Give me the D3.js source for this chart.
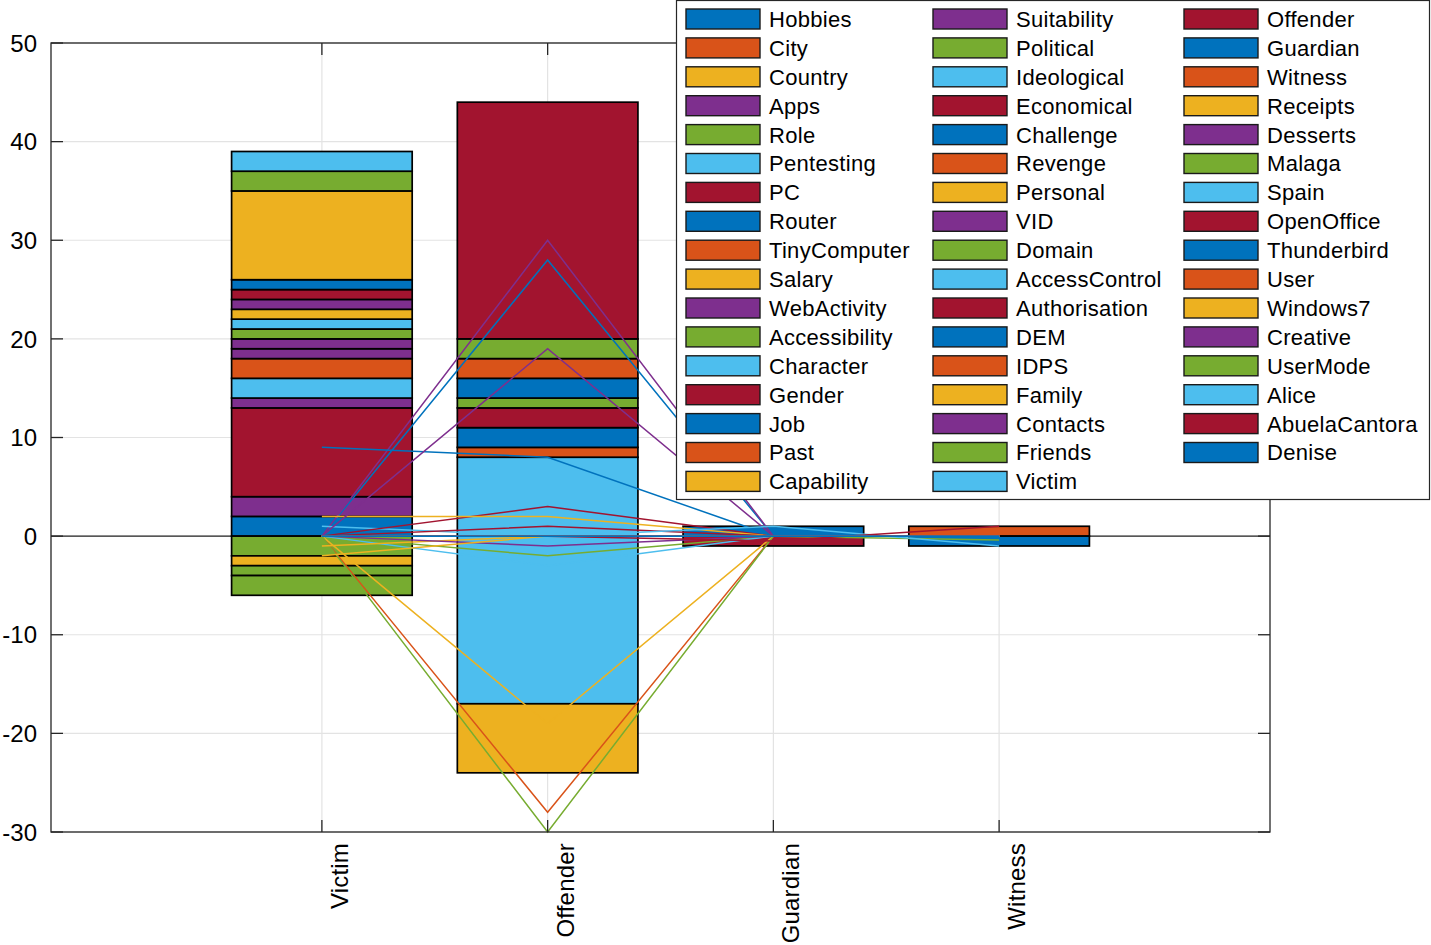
<!DOCTYPE html>
<html><head><meta charset="utf-8">
<script src="https://cdn.jsdelivr.net/npm/d3@7"></script>
<style>
body{margin:0;background:#fff}
svg{display:block}
text{font-family:"Liberation Sans",Arial,Helvetica,sans-serif;fill:#000}
</style>
</head><body><svg id="chart" width="1431" height="945"></svg>
<script>
const categories = ["Victim","Offender","Guardian","Witness"];
const seriesNames = ["Hobbies","City","Country","Apps","Role","Pentesting","PC","Router","TinyComputer","Salary",
  "WebActivity","Accessibility","Character","Gender","Job","Past","Capability","Suitability","Political","Ideological",
  "Economical","Challenge","Revenge","Personal","VID","Domain","AccessControl","Authorisation","DEM","IDPS",
  "Family","Contacts","Friends","Victim","Offender","Guardian","Witness","Receipts","Desserts","Malaga",
  "Spain","OpenOffice","Thunderbird","User","Windows7","Creative","UserMode","Alice","AbuelaCantora","Denise"];
const palette = ["#0072BD","#D95319","#EDB120","#7E2F8E","#77AC30","#4DBEEE","#A2142F"];

// stacked bar values, one entry per series
const barVictim   = [2,0,0,2,-2,0,9,0,0,-1, 1,-1,2,0,0,2,0,1,-2,0, 0,0,0,0,1,1,1,0,0,0, 1,1,0,0,1,1,0,9,0,2, 2,0,0,0,0,0,0,0,0,0];
const barOffender = [0,0,0,0,0,8,0,0,1,0, 0,0,-17,0,2,0,-7,0,0,0, 2,0,0,0,0,1,0,0,2,2, 0,0,2,0,24,0,0,0,0,0, 0,0,0,0,0,0,0,0,0,0];
const barGuardian = [0,0,0,0,0,0,0,0,0,0, 0,0,0,0,0,0,0,0,0,0, 0,0,0,0,0,0,0,0,0,0, 0,0,0,0,0,1,0,0,0,0, 0,-1,0,0,0,0,0,0,0,0];
const barWitness  = [0,0,0,0,0,0,0,0,0,0, 0,0,0,0,0,0,0,0,0,0, 0,0,0,0,0,0,0,0,0,0, 0,0,0,0,0,0,1,0,0,0, 0,0,-1,0,0,0,0,0,0,0];

// line values, one entry per series, at each category
const lineVictim   = [0,0,0,0,0,1,0,9,0,2, 0,0,0,0,0,0,-1,0,0,0, 0,0,0,-2,0,0,0,0,0,0, 0,0,0,0,0,0,0,0,0,0, 0,0,0,0,0,0,0,0,0,0];
const lineOffender = [28,-28,-19,30,-30,0,3,8,0,2, 19,-2,-3,1,0,0,0,-1,0,0, 0,0,0,0,0,0,0,0,0,0, 0,0,0,0,0,0,0,0,0,0, 0,0,0,0,0,0,0,0,0,0];
const lineGuardian = [0,0,0,0,0,0,0,0,0,0, 0,0,0,0,0,0,0,0,0,1, -0.5,0,0,0,0,0,0,0,0,0, 0,0,0,0,0,0,0,0,0,0, 0,0,0,0,0,0,0,0,0,0];
const lineWitness  = [0,0,0,0,0,0,0,0,0,0, 0,0,0,0,0,0,0,0,-0.4,-1, 1,0,0,0,0,0,0,0,0,0, 0,0,0,0,0,0,0,0,0,0, 0,0,0,0,0,0,0,0,0,0];

const yTicks = [-30,-20,-10,0,10,20,30,40,50];

const svg = d3.select("#chart");
const x = d3.scaleLinear().domain([-0.2, 5.2]).range([51, 1270]);
const y = d3.scaleLinear().domain([-30, 50]).range([832, 43]);
const color = i => palette[i % palette.length];
const barW = x(0.8) - x(0);

// grid
const grid = svg.append("g");
grid.selectAll("line.gy").data(yTicks).join("line")
  .attr("x1", x(-0.2)).attr("x2", x(5.2))
  .attr("y1", d => y(d)).attr("y2", d => y(d))
  .attr("stroke", "#e3e3e3").attr("stroke-width", 1.2);
grid.selectAll("line.gx").data(categories).join("line")
  .attr("x1", (d, i) => x(i + 1)).attr("x2", (d, i) => x(i + 1))
  .attr("y1", y(-30)).attr("y2", y(50))
  .attr("stroke", "#e3e3e3").attr("stroke-width", 1.2);

// baseline
svg.append("line").attr("x1", x(-0.2)).attr("x2", x(5.2)).attr("y1", y(0)).attr("y2", y(0))
  .attr("stroke", "#262626").attr("stroke-width", 1.3);

// stacked bars
const barCols = [barVictim, barOffender, barGuardian, barWitness];
const rows = categories.map((c, ci) => {
  const r = {cat: c, idx: ci};
  seriesNames.forEach((s, si) => r[s] = barCols[ci][si]);
  return r;
});
const stack = d3.stack().keys(seriesNames).offset(d3.stackOffsetDiverging);
const layers = stack(rows);
const gb = svg.append("g");
layers.forEach((layer, si) => {
  gb.selectAll(null).data(layer.filter(d => d[1] !== d[0])).join("rect")
    .attr("x", d => x(d.data.idx + 1) - barW / 2)
    .attr("width", barW)
    .attr("y", d => y(Math.max(d[0], d[1])))
    .attr("height", d => Math.abs(y(d[0]) - y(d[1])))
    .attr("fill", color(si))
    .attr("stroke", "#000").attr("stroke-width", 1.7);
});

// lines
const lineCols = [lineVictim, lineOffender, lineGuardian, lineWitness];
const lineGen = d3.line().x(d => x(d.i + 1)).y(d => y(d.v));
const gl = svg.append("g");
seriesNames.forEach((s, si) => {
  const pts = lineCols.map((col, ci) => ({i: ci, v: col[si]}));
  gl.append("path").attr("d", lineGen(pts)).attr("fill", "none")
    .attr("stroke", color(si)).attr("stroke-width", 1.5);
});

// axes box
svg.append("rect").attr("x", x(-0.2)).attr("y", y(50)).attr("width", x(5.2) - x(-0.2)).attr("height", y(-30) - y(50))
  .attr("fill", "none").attr("stroke", "#262626").attr("stroke-width", 1.3);
const tl = 12;
yTicks.forEach(t => {
  svg.append("line").attr("x1", x(-0.2)).attr("x2", x(-0.2) + tl).attr("y1", y(t)).attr("y2", y(t)).attr("stroke", "#262626").attr("stroke-width", 1.3);
  svg.append("line").attr("x1", x(5.2)).attr("x2", x(5.2) - tl).attr("y1", y(t)).attr("y2", y(t)).attr("stroke", "#262626").attr("stroke-width", 1.3);
});
categories.forEach((c, i) => {
  svg.append("line").attr("x1", x(i + 1)).attr("x2", x(i + 1)).attr("y1", y(-30)).attr("y2", y(-30) - tl).attr("stroke", "#262626").attr("stroke-width", 1.3);
  svg.append("line").attr("x1", x(i + 1)).attr("x2", x(i + 1)).attr("y1", y(50)).attr("y2", y(50) + tl).attr("stroke", "#262626").attr("stroke-width", 1.3);
});
svg.selectAll("text.yt").data(yTicks).join("text")
  .attr("x", 37).attr("y", d => y(d)).attr("dy", "0.36em")
  .attr("text-anchor", "end").attr("font-size", 24).text(d => d);
svg.selectAll("text.xt").data(categories).join("text")
  .attr("transform", (d, i) => `translate(${x(i + 1) + 26},843) rotate(-90)`)
  .attr("text-anchor", "end").attr("font-size", 24).attr("letter-spacing", 0.2).text(d => d);

// legend
const lg = svg.append("g");
lg.append("rect").attr("x", 676.5).attr("y", 0.5).attr("width", 753).attr("height", 499)
  .attr("fill", "#fff").attr("stroke", "#262626").attr("stroke-width", 1.2);
const colX = [686, 933, 1184];
seriesNames.forEach((s, si) => {
  const col = Math.floor(si / 17), row = si % 17;
  const cy = 19 + row * 28.9;
  lg.append("rect").attr("x", colX[col]).attr("y", cy - 10).attr("width", 74).attr("height", 20)
    .attr("fill", color(si)).attr("stroke", "#1a1a1a").attr("stroke-width", 1.4);
  lg.append("text").attr("x", colX[col] + 83).attr("y", cy).attr("dy", "0.36em")
    .attr("font-size", 22).attr("letter-spacing", 0.3).text(s);
});
</script>
</body></html>
